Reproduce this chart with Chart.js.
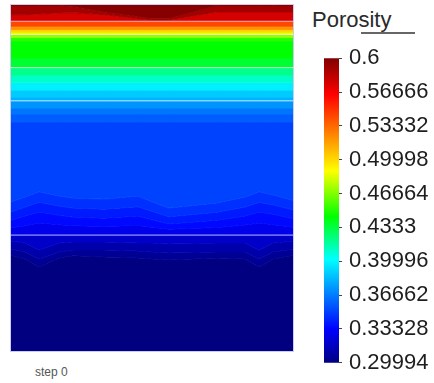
<!DOCTYPE html>
<html>
<head>
<meta charset="utf-8">
<script src="https://cdn.jsdelivr.net/npm/chart.js@4.4.0/dist/chart.umd.min.js"></script>
<style>
  body { margin: 0; width: 434px; height: 383px; background: #fff; position: relative; overflow: hidden;
         font-family: "Liberation Sans", Arial, sans-serif; }
  #fieldBox { position: absolute; left: 10px; top: 4px; width: 282px; height: 346px; border: 1px solid #cbcbf0; }
  #field { display: block; }
  #cbar { position: absolute; left: 314px; top: 38px; }
  #title { position: absolute; left: 312px; top: 9px; font-size: 22px; line-height: 22px; color: #2a2a2a; }
  #underline { position: absolute; left: 361px; top: 32px; width: 54px; height: 2px; background: #666; }
  #step { position: absolute; left: 35px; top: 365px; font-size: 12px; line-height: 14px; color: #555; }
</style>
</head>
<body>
<div id="fieldBox"><canvas id="field" width="282" height="346"></canvas></div>
<div id="title">Porosity</div>
<div id="underline"></div>
<canvas id="cbar" width="120" height="345"></canvas>
<div id="step">step 0</div>
<script>
// porosity range of the colour bar
const porosityRange = [0.29994, 0.6];
const colorbarTicks = [0.6, 0.56666, 0.53332, 0.49998, 0.46664, 0.4333, 0.39996, 0.36662, 0.33328, 0.29994];

// lateral positions (fraction of model width) where band boundaries are sampled
const xNodes = [0, 0.05, 0.1, 0.17, 0.22, 0.33, 0.45, 0.5, 0.56, 0.73, 0.83, 0.88, 0.93, 1];

// wavy boundaries, depth in % of model height
const topMaroon = [0.15, 0.15, 0.15, 0.15, 0.4, 2.0, 3.3, 3.8, 3.8, 0.15, 0.15, 0.15, 0.15, 0.15];
const topRed = [2.8, 2.8, 2.6, 2.3, 2.2, 2.8, 3.9, 4.3, 4.3, 2.0, 2.0, 2.0, 2.0, 2.0];
const contour1 = [56.9, 55.5, 54.0, 55.2, 55.8, 56.1, 55.2, 56.9, 58.7, 57.2, 55.5, 54.0, 54.9, 56.4];
const contour2 = [59.8, 58.4, 57.0, 58.1, 58.7, 59.0, 58.3, 59.6, 61.2, 59.9, 58.4, 57.0, 57.8, 59.2];
const contour3 = [62.2, 61.0, 59.8, 60.8, 61.3, 61.6, 61.0, 62.1, 63.3, 62.2, 61.0, 59.8, 60.5, 61.8];
const contour4 = [64.4, 63.8, 63.0, 63.5, 63.8, 64.0, 63.7, 64.2, 64.8, 64.3, 63.6, 63.0, 63.5, 64.2];
const deep1 = [68.2, 68.8, 70.8, 68.8, 68.5, 68.5, 68.8, 68.8, 69.1, 68.8, 68.8, 70.8, 68.8, 68.2];
const deep2 = [70.5, 71.4, 73.4, 71.4, 70.8, 70.8, 71.1, 71.4, 71.7, 71.4, 71.4, 73.4, 71.4, 70.5];
const deep3 = [72.3, 73.4, 75.7, 73.1, 72.5, 72.8, 73.1, 73.4, 73.7, 73.1, 73.4, 75.7, 73.4, 72.3];

// porosity of each band (top to bottom) and the depth of its lower edge
const bandPorosity = [0.598, 0.59, 0.576, 0.543, 0.52, 0.501, 0.4845, 0.47, 0.451, 0.444, 0.436,
  0.421, 0.411, 0.398, 0.388, 0.381, 0.373, 0.365, 0.358, 0.351, 0.346, 0.34, 0.335, 0.3278,
  0.3187, 0.3109, 0.3051, 0.3];
const bandBottom = [topMaroon, topRed, 4.7, 6.1, 7.1, 7.8, 8.5, 9.3, 10.4, 15.3, 18.1,
  20.2, 22.3, 24.6, 26.6, 27.7, 29.8, 31.5, 33.8, contour1, contour2, contour3, contour4, 66.5,
  deep1, deep2, deep3, 100];

// layer interfaces (white lines)
const layerDepths = [4.7, 8.5, 18.1, 27.7, 66.5];

// jet-like colour map
const jetStops = [
  [0, [0, 0, 128]], [0.11, [0, 0, 255]], [0.34, [0, 255, 255]], [0.48, [0, 255, 0]],
  [0.63, [255, 255, 0]], [0.88, [255, 0, 0]], [1, [128, 0, 0]]
];
function rgb(c) { return "rgb(" + c.map(Math.round).join(",") + ")"; }
function porosityColor(v) {
  const t = Math.min(1, Math.max(0, (v - porosityRange[0]) / (porosityRange[1] - porosityRange[0])));
  for (let i = 1; i < jetStops.length; i++) {
    const [t0, c0] = jetStops[i - 1];
    const [t1, c1] = jetStops[i];
    if (t <= t1) {
      const f = (t - t0) / (t1 - t0);
      return rgb(c0.map((c, k) => c + (c1[k] - c) * f));
    }
  }
  return rgb(jetStops[jetStops.length - 1][1]);
}

// field: filled bands between boundaries
const bandSets = bandPorosity.map((p, i) => {
  const b = bandBottom[i];
  const ys = Array.isArray(b) ? b : xNodes.map(() => b);
  const color = porosityColor(p);
  return {
    data: xNodes.map((x, j) => ({ x: x, y: ys[j] })),
    borderColor: color,
    borderWidth: 1,
    backgroundColor: color,
    fill: i === 0 ? { value: 0 } : "-1",
    pointRadius: 0,
    tension: 0,
  };
});
const layerSets = layerDepths.map((d) => ({
  data: [{ x: 0, y: d }, { x: 1, y: d }],
  borderColor: "rgba(255,255,255,0.72)",
  borderWidth: 1,
  fill: false,
  pointRadius: 0,
  order: -1,
}));

new Chart(document.getElementById("field").getContext("2d"), {
  type: "line",
  data: { datasets: bandSets.concat(layerSets) },
  options: {
    responsive: false,
    animation: false,
    events: [],
    layout: { padding: 0 },
    plugins: { legend: { display: false }, tooltip: { enabled: false } },
    scales: {
      x: { type: "linear", min: 0, max: 1, display: false },
      y: { type: "linear", min: 0, max: 100, reverse: true, display: false },
    },
  },
});

// colour bar
new Chart(document.getElementById("cbar").getContext("2d"), {
  type: "bar",
  data: {
    labels: ["Porosity"],
    datasets: [{
      data: [porosityRange],
      barPercentage: 1,
      categoryPercentage: 1,
      backgroundColor: (ctx) => {
        const area = ctx.chart.chartArea;
        if (!area) return "#888";
        const g = ctx.chart.ctx.createLinearGradient(0, area.bottom, 0, area.top);
        jetStops.forEach((s) => g.addColorStop(s[0], rgb(s[1])));
        return g;
      },
    }],
  },
  options: {
    responsive: false,
    animation: false,
    events: [],
    layout: { padding: { left: 10, top: 15, bottom: 13, right: 0 } },
    plugins: { legend: { display: false }, tooltip: { enabled: false } },
    scales: {
      x: { display: false },
      y: {
        position: "right",
        min: porosityRange[0],
        max: porosityRange[1],
        afterFit: (scale) => { scale.width = 95; },
        afterBuildTicks: (scale) => { scale.ticks = colorbarTicks.map((v) => ({ value: v })); },
        border: { display: false },
        grid: { drawOnChartArea: false, tickLength: 3, color: "#444" },
        ticks: {
          autoSkip: false,
          padding: 7,
          color: "#1e1e1e",
          font: { family: "'Liberation Sans', Arial, sans-serif", size: 22 },
          callback: (v) => String(v),
        },
      },
    },
  },
});
</script>
</body>
</html>
